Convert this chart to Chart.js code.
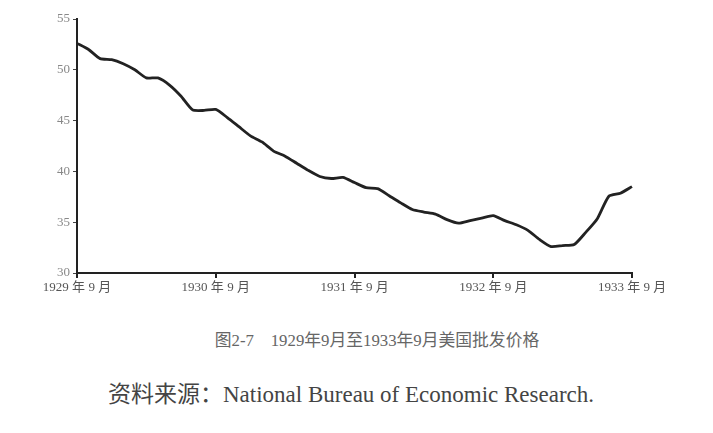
<!DOCTYPE html>
<html>
<head>
<meta charset="utf-8">
<script src="https://cdn.jsdelivr.net/npm/chart.js@4.4.0/dist/chart.umd.min.js"></script>
<style>
  body { margin: 0; background: #fff; }
  #wrap { position: absolute; left: 0; top: 0; width: 713px; height: 310px; }
  .caption { position: absolute; left: 0; width: 713px; text-align: center;
             font-family: "Liberation Serif", "Noto Sans CJK SC", serif; }
  #cap { top: 327px; font-size: 16.8px; color: #666; padding-left: 41px; box-sizing: border-box; }
  #src { top: 375px; left: 108px; width: auto; text-align: left; font-size: 23px; color: #444; }
</style>
</head>
<body>
<div id="wrap"><canvas id="priceChart"></canvas></div>
<div class="caption" id="cap">图2-7　1929年9月至1933年9月美国批发价格</div>
<div class="caption" id="src">资料来源：National Bureau of Economic Research.</div>
<script>
// monthly wholesale price index, Sep 1929 .. Sep 1933
var months = [];
for (var i = 0; i <= 48; i++) months.push(i);

var tickLabels = ['1929 年 9 月', '1930 年 9 月', '1931 年 9 月', '1932 年 9 月', '1933 年 9 月'];

var prices = [52.6, 52.0, 51.1, 51.0, 50.6, 50.0, 49.2, 49.2, 48.5, 47.4, 46.05, 46.0,
              46.1, 45.3, 44.4, 43.5, 42.9, 42.0, 41.5, 40.8, 40.1, 39.5, 39.3, 39.4,
              38.9, 38.4, 38.3, 37.6, 36.9, 36.25, 36.0, 35.8, 35.25, 34.9, 35.15, 35.4,
              35.65, 35.15, 34.75, 34.2, 33.3, 32.6, 32.7, 32.8, 34.0, 35.35, 37.55, 37.85,
              38.5];

var tickFont = { family: '"Liberation Serif", "Noto Sans CJK SC", serif', size: 13 };

var canvasContext = document.getElementById('priceChart').getContext('2d');

var priceChart = new Chart(canvasContext, {
    type: 'line',
    data: {
        labels: months,
        datasets: [{
            data: prices,
            borderColor: '#222',
            borderWidth: 2.8,
            pointRadius: 0,
            tension: 0.2,
            fill: false
        }]
    },
    options: {
        responsive: true,
        maintainAspectRatio: false,
        animation: false,
        layout: { padding: { top: 19, right: 81, left: 0, bottom: 0 } },
        plugins: { legend: { display: false }, tooltip: { enabled: false } },
        scales: {
            x: {
                offset: false,
                afterFit: function (scale) { scale.height = 37; },
                border: { display: true, color: '#222', width: 2 },
                grid: {
                    drawOnChartArea: false,
                    tickLength: 5,
                    lineWidth: 2,
                    color: function (ctx) { return ctx.index % 12 === 0 ? '#222' : 'rgba(0,0,0,0)'; }
                },
                ticks: {
                    autoSkip: false,
                    maxRotation: 0,
                    color: '#555',
                    font: tickFont,
                    padding: 2,
                    callback: function (value, index) {
                        return index % 12 === 0 ? tickLabels[index / 12] : '';
                    }
                }
            },
            y: {
                min: 30,
                max: 55,
                afterFit: function (scale) { scale.width = 77; },
                border: { display: true, color: '#222', width: 2 },
                grid: { drawOnChartArea: false, tickLength: 4, color: '#444' },
                ticks: { stepSize: 5, color: '#888', font: tickFont, padding: 3 }
            }
        }
    }
});
</script>
</body>
</html>
